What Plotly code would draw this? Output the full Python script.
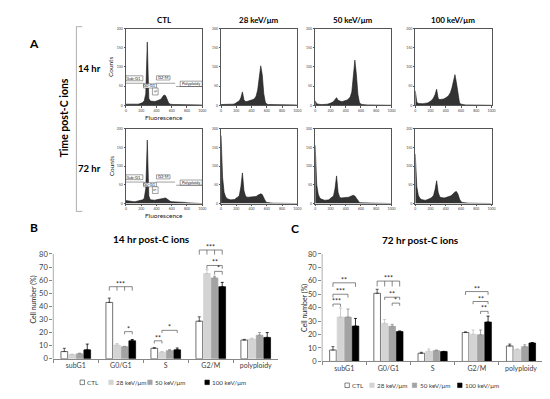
import plotly.graph_objects as go

W, H = 550, 399
FONT = "Lato"

# ---------------- data ----------------
fluorescence = list(range(0, 1001, 20))  # channel positions (0..1000)

ctl_14hr = [3, 3, 3, 2, 2, 2, 3, 3, 3, 4, 5, 7, 12, 30, 165, 18, 11, 10, 10, 10,
            11, 12, 13, 16, 22, 27, 25, 14, 6, 3, 2, 2, 2, 2, 1, 1, 1, 1, 1, 1,
            1, 1, 1, 1, 1, 1, 1, 1, 1, 1, 0]
k28_14hr = [2, 2, 2, 2, 2, 2, 2, 3, 3, 4, 6, 8, 12, 20, 35, 14, 10, 10, 11, 12,
            13, 15, 18, 24, 40, 72, 103, 80, 30, 8, 3, 2, 2, 1, 1, 1, 1, 1, 1, 1,
            1, 1, 1, 1, 1, 1, 1, 1, 1, 1, 0]
k50_14hr = [12, 4, 3, 2, 2, 2, 2, 3, 3, 4, 5, 7, 10, 14, 20, 13, 11, 10, 10, 11,
            12, 14, 17, 22, 35, 70, 118, 80, 28, 7, 3, 2, 1, 1, 1, 1, 1, 1, 1, 1,
            1, 1, 1, 1, 1, 1, 1, 1, 1, 1, 0]
k100_14hr = [38, 8, 5, 4, 4, 4, 5, 5, 6, 8, 10, 14, 20, 28, 42, 18, 15, 15, 16, 17,
             19, 22, 26, 33, 45, 68, 80, 58, 24, 6, 3, 2, 1, 1, 1, 1, 1, 1, 1, 1,
             1, 1, 1, 1, 1, 1, 1, 1, 1, 1, 0]
ctl_72hr = [8, 7, 6, 5, 6, 5, 5, 6, 6, 7, 8, 10, 14, 40, 170, 20, 10, 9, 9, 9,
            10, 11, 12, 14, 15, 16, 15, 12, 8, 6, 5, 5, 4, 4, 4, 4, 3, 3, 3, 3,
            2, 2, 2, 2, 2, 1, 1, 1, 1, 1, 0]
k28_72hr = [182, 70, 30, 18, 13, 11, 10, 10, 10, 11, 15, 17, 22, 45, 82, 35, 20, 17, 17, 17,
            17, 17, 18, 19, 22, 25, 26, 24, 15, 7, 3, 2, 2, 1, 1, 1, 1, 1, 1, 1,
            1, 1, 1, 1, 1, 1, 1, 1, 1, 1, 0]
k50_72hr = [156, 50, 25, 15, 12, 10, 9, 9, 9, 10, 14, 16, 20, 40, 74, 30, 17, 15, 15, 15,
            15, 16, 17, 19, 21, 22, 20, 14, 7, 3, 2, 2, 1, 1, 1, 1, 1, 1, 1, 1,
            1, 1, 1, 1, 1, 1, 1, 1, 1, 1, 0]
k100_72hr = [133, 45, 22, 14, 11, 9, 9, 9, 10, 11, 14, 17, 22, 38, 61, 30, 18, 16, 15, 15,
             16, 17, 18, 20, 23, 27, 31, 32, 25, 12, 5, 3, 2, 1, 1, 1, 1, 1, 1, 1,
             1, 1, 1, 1, 1, 1, 1, 1, 1, 1, 0]

column_titles = ["CTL", "28 keV/μm", "50 keV/μm", "100 keV/μm"]
row_titles = ["14 hr", "72 hr"]

# gating regions drawn on the CTL histograms: (label, x0, x1, y0, y1)
gate_boxes = [("Sub-G1", 0, 222, 64, 77), ("G0-G1", 231, 400, 45, 56),
              ("S", 347, 422, 27, 45), ("G2-M", 400, 578, 66, 77),
              ("Polyploidy", 711, 1000, 49, 63)]
gate_lines = [(0, 244, 57.5), (391, 644, 57.5), (658, 1000, 49)]

phases = ["subG1", "G0/G1", "S", "G2/M", "polyploidy"]
groups = ["CTL", "28 keV/μm", "50 keV/μm", "100 keV/μm"]

b14_ctl = [5.5, 43, 8, 28.7, 14.3]
b14_28 = [3.2, 10.5, 5, 65, 15]
b14_50 = [3.8, 9.2, 6.2, 61.7, 18]
b14_100 = [6.8, 13.7, 6.8, 55, 16.3]
e14_ctl = [2.5, 3.3, 0.5, 3.3, 0.5]
e14_28 = [0.3, 1.2, 0.5, 3, 0.8]
e14_50 = [0.5, 0.3, 0.8, 1.3, 2]
e14_100 = [4.4, 1, 1.4, 3.3, 3.7]

b72_ctl = [8.5, 50.7, 6.1, 21.5, 11.5]
b72_28 = [33, 28.3, 7.6, 20.2, 8.8]
b72_50 = [33, 26.1, 8, 19.8, 11]
b72_100 = [26.3, 22.2, 7.3, 29.3, 13.7]
e72_ctl = [2.5, 3, 0.7, 0.5, 1.4]
e72_28 = [6.8, 2.9, 1.7, 3.2, 0.5]
e72_50 = [6, 1.5, 0.5, 3.6, 1.4]
e72_100 = [5.7, 0.5, 0.2, 4.4, 0.4]

# significance brackets: (phase index, bars joined, line height, tick depth, label)
sig14 = [(1, [0, 1, 2, 3], 55, 3, "***"), (1, [2, 3], 20.7, 2, "*"),
         (2, [0, 1], 13.7, 2, "**"), (2, [1, 3], 21.7, 2, "*"),
         (3, [0, 1, 2, 3], 83, 3.5, "***"), (3, [1, 3], 71.2, 2.5, "**"),
         (3, [2, 3], 66.7, 2.5, "*")]
sig72 = [(0, [0, 1], 42.7, 2, "***"), (0, [0, 2], 50, 2.5, "***"),
         (0, [0, 3], 58.5, 3, "**"), (1, [0, 1, 2, 3], 59.8, 4, "***"),
         (1, [1, 3], 47.8, 2, "**"), (1, [2, 3], 43.4, 2, "*"),
         (3, [0, 3], 52, 2.5, "**"), (3, [1, 3], 44.6, 2, "**"),
         (3, [2, 3], 37.3, 2, "**")]

# ---------------- helpers ----------------
def px(xp):
    return xp / W

def py(yp):
    return 1 - yp / H

def axkey(letter, n):
    return f"{letter}axis" if n == 1 else f"{letter}axis{n}"

def axref(letter, n):
    return letter if n == 1 else f"{letter}{n}"

fig = go.Figure()
layout = {}
shapes = []
annotations = []

def ann(text, x, y, size=7, bold=False, color="#000", angle=0, xanchor="center", yanchor="middle"):
    annotations.append(dict(text=f"<b>{text}</b>" if bold else text, x=px(x), y=py(y),
                            xref="paper", yref="paper", showarrow=False,
                            font=dict(family=FONT, size=size, color=color),
                            textangle=angle, xanchor=xanchor, yanchor=yanchor))

# ---------------- histograms (panel A) ----------------
hist_cols = [118, 214, 309, 410]
hist_w = 77
hist_rows = [(19, 97), (121, 197)]
hist_data = [[ctl_14hr, k28_14hr, k50_14hr, k100_14hr],
             [ctl_72hr, k28_72hr, k50_72hr, k100_72hr]]

for r in range(2):
    top, bot = hist_rows[r]
    for c in range(4):
        n = r * 4 + c + 1
        xr, yr = axref("x", n), axref("y", n)
        fig.add_trace(go.Scatter(x=fluorescence, y=hist_data[r][c], mode="lines",
                                 line=dict(color="#1a1a1a", width=0.6),
                                 fill="tozeroy", fillcolor="#333333",
                                 xaxis=xr, yaxis=yr, showlegend=False, hoverinfo="skip"))
        left = hist_cols[c]
        layout[axkey("x", n)] = dict(domain=[px(left), px(left + hist_w)], anchor=yr,
                                     range=[0, 1000], tickvals=[0, 200, 400, 600, 800, 1000],
                                     ticks="outside", ticklen=1.5, tickwidth=0.5, tickcolor="#555",
                                     tickfont=dict(size=3.5, color="#444", family=FONT),
                                     showline=True, mirror=True, linecolor="#555", linewidth=0.7,
                                     showgrid=False, zeroline=False)
        layout[axkey("y", n)] = dict(domain=[py(bot), py(top)], anchor=xr,
                                     range=[0, 200], tickvals=[0, 50, 100, 150, 200],
                                     ticks="outside", ticklen=1.5, tickwidth=0.5, tickcolor="#555",
                                     tickfont=dict(size=3.5, color="#444", family=FONT),
                                     showline=True, mirror=True, linecolor="#555", linewidth=0.7,
                                     showgrid=False, zeroline=False)
        if c == 0:
            for (lab, x0, x1, y0, y1) in gate_boxes:
                shapes.append(dict(type="rect", xref=xr, yref=yr, x0=x0, x1=x1, y0=y0, y1=y1,
                                   line=dict(color="#444", width=0.5), fillcolor="white", layer="above"))
                annotations.append(dict(text=lab, x=(x0 + x1) / 2, y=(y0 + y1) / 2, xref=xr, yref=yr,
                                        showarrow=False, textangle=90 if lab == "S" else 0,
                                        font=dict(family=FONT, size=4, color="#222")))
            for (x0, x1, y) in gate_lines:
                shapes.append(dict(type="line", xref=xr, yref=yr, x0=x0, x1=x1, y0=y, y1=y,
                                   line=dict(color="#444", width=0.5)))
            ann("Counts", left - 15, (top + bot) / 2, size=6.5, angle=-90, color="#222")
            ann("Fluorescence", left + hist_w / 2, bot + 12.5, size=6.5, color="#222")
        if r == 0:
            ann(column_titles[c], left + hist_w / 2, 10, size=8, bold=True)
    ann(row_titles[r], 81, (top + bot) / 2 + 2, size=9.5, bold=True)

ann("A", 25, 34, size=12, bold=True)
ann("Time post-C ions", 56, 110, size=10.5, bold=True, angle=-90)
shapes.append(dict(type="path", xref="paper", yref="paper",
                   path=f"M {px(74)} {py(17)} L {px(68)} {py(17)} L {px(68)} {py(205)} L {px(74)} {py(205)}",
                   line=dict(color="#999", width=0.8)))

# ---------------- bar charts (panels B, C) ----------------
fills = ["#ffffff", "#d4d4d4", "#a3a3a3", "#000000"]
outlines = ["#333333", "#d4d4d4", "#a3a3a3", "#000000"]
errcols = ["#333333", "#c0c0c0", "#8a8a8a", "#000000"]
BARGAP, GROUPGAP = 0.32, 0.12

def bar_offset(k):
    slot = (1 - BARGAP) / 4
    return -(1 - BARGAP) / 2 + slot * (k + 0.5)

panels = [
    dict(n=9, vals=[b14_ctl, b14_28, b14_50, b14_100], errs=[e14_ctl, e14_28, e14_50, e14_100],
         sig=sig14, x0=44.7, x1=271.7, y0=355, y80=248.3, title="14 hr post-C ions",
         tpos=(144, 233), letter=("B", 25, 221), ylab=(25, 295), leg_y=379,
         leg=[71.7, 100.7, 140, 197.7]),
    dict(n=10, vals=[b72_ctl, b72_28, b72_50, b72_100], errs=[e72_ctl, e72_28, e72_50, e72_100],
         sig=sig72, x0=316, x1=539, y0=357.7, y80=248.3, title="72 hr post-C ions",
         tpos=(415, 234), letter=("C", 289, 222), ylab=(298, 303), leg_y=382,
         leg=[339, 364, 407, 452.7]),
]

for P in panels:
    n = P["n"]
    xr, yr = axref("x", n), axref("y", n)
    for k in range(4):
        fig.add_trace(go.Bar(x=phases, y=P["vals"][k], name=groups[k],
                             marker=dict(color=fills[k], line=dict(color=outlines[k], width=0.7)),
                             error_y=dict(type="data", symmetric=False, array=P["errs"][k],
                                          arrayminus=[0] * 5, color=errcols[k], thickness=0.8, width=1.5),
                             xaxis=xr, yaxis=yr, showlegend=False, hoverinfo="skip"))
    unit = (P["y0"] - P["y80"]) / 80
    ytop = P["y0"] - 88 * unit
    layout[axkey("x", n)] = dict(domain=[px(P["x0"]), px(P["x1"])], anchor=yr, type="category",
                                 tickson="boundaries", ticks="outside", ticklen=3, tickwidth=0.6,
                                 tickcolor="#888", showline=True, linecolor="#888", linewidth=0.7,
                                 tickfont=dict(size=7, color="#404040", family=FONT),
                                 showgrid=False, zeroline=False)
    layout[axkey("y", n)] = dict(domain=[py(P["y0"]), py(ytop)], anchor=xr, range=[0, 88],
                                 tickvals=list(range(0, 81, 10)), ticks="outside", ticklen=3,
                                 tickwidth=0.6, tickcolor="#888", showline=False,
                                 tickfont=dict(size=7.5, color="#404040", family=FONT),
                                 showgrid=False, zeroline=False)
    shapes.append(dict(type="line", xref=f"{xr} domain", yref=yr, x0=0, x1=0, y0=0, y1=80,
                       line=dict(color="#888", width=0.7)))
    for (cat, bars, y, depth, lab) in P["sig"]:
        xs = [cat + bar_offset(b) for b in bars]
        shapes.append(dict(type="line", xref=xr, yref=yr, x0=xs[0], x1=xs[-1], y0=y, y1=y,
                           line=dict(color="#555", width=0.7)))
        for xv in xs:
            shapes.append(dict(type="line", xref=xr, yref=yr, x0=xv, x1=xv, y0=y, y1=y - depth,
                               line=dict(color="#555", width=0.7)))
        annotations.append(dict(text=lab, x=(xs[0] + xs[-1]) / 2, y=y, xref=xr, yref=yr,
                                showarrow=False, yanchor="bottom", yshift=-3,
                                font=dict(family=FONT, size=7, color="#222")))
    ann(P["title"], P["tpos"][0], P["tpos"][1], size=10, bold=True)
    ann(P["letter"][0], P["letter"][1], P["letter"][2], size=12, bold=True)
    ann("Cell number (%)", P["ylab"][0], P["ylab"][1], size=7, angle=-90, color="#222")
    # legend
    for k in range(4):
        mx = P["leg"][k]
        ly = P["leg_y"]
        shapes.append(dict(type="rect", xref="paper", yref="paper",
                           x0=px(mx), x1=px(mx + 4.5), y0=py(ly + 2.3), y1=py(ly - 2.3),
                           fillcolor=fills[k], line=dict(color=outlines[k], width=0.6)))
        ann(groups[k], mx + 5.5, ly, size=6.3, color="#404040", xanchor="left")

layout.update(dict(width=W, height=H, margin=dict(l=0, r=0, t=0, b=0), autosize=False,
                   paper_bgcolor="white", plot_bgcolor="white", barmode="group",
                   bargap=BARGAP, bargroupgap=GROUPGAP, shapes=shapes, annotations=annotations,
                   font=dict(family=FONT)))
fig.update_layout(**layout)
fig.write_html("out.html")
